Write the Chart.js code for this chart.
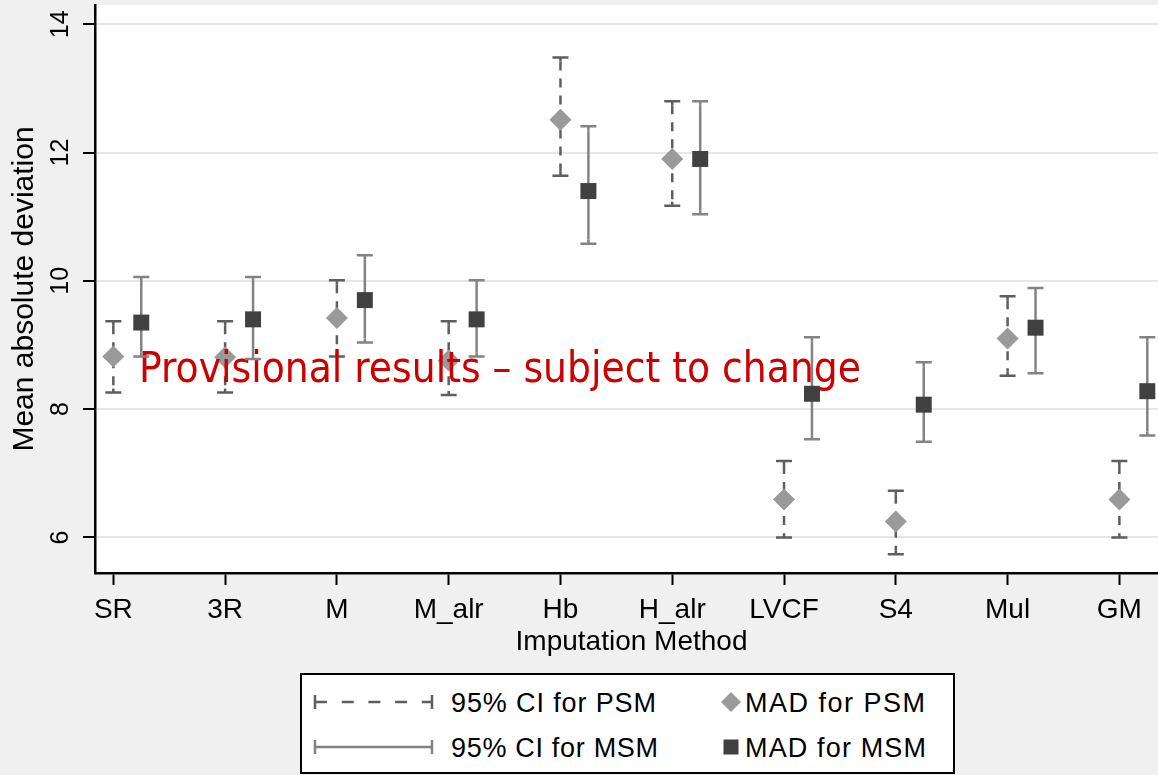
<!DOCTYPE html>
<html><head><meta charset="utf-8">
<script src="https://cdn.jsdelivr.net/npm/chart.js@4.4.1/dist/chart.umd.min.js"></script>
<style>
html,body{margin:0;padding:0;background:#f0f0f0;overflow:hidden;width:1158px;height:775px;}
#wrap{position:relative;width:1168px;height:775px;}
#c{position:absolute;left:0;top:0;}
#legend{position:absolute;left:300px;top:673px;}
#legend text{font-family:'Liberation Sans',Arial,sans-serif;font-size:27px;fill:#000;}
</style></head><body>
<div id="wrap">
<canvas id="c" width="1168" height="775"></canvas>
<svg id="legend" width="656" height="102" xmlns="http://www.w3.org/2000/svg">
  <rect x="1" y="1" width="653" height="99" fill="#fff" stroke="#000" stroke-width="2"/>
  <g stroke="#5e5e5e" stroke-width="2.5">
    <line x1="15" y1="29" x2="132" y2="29" stroke-dasharray="12 14.7"/>
    <line x1="15" y1="22" x2="15" y2="36"/>
    <line x1="132" y1="22" x2="132" y2="36"/>
  </g>
  <g stroke="#838383" stroke-width="2.5">
    <line x1="15" y1="74" x2="132" y2="74"/>
    <line x1="15" y1="67" x2="15" y2="81"/>
    <line x1="132" y1="67" x2="132" y2="81"/>
  </g>
  <text x="151" y="39" textLength="205" lengthAdjust="spacing">95% CI for PSM</text>
  <text x="151" y="84" textLength="207" lengthAdjust="spacing">95% CI for MSM</text>
  <polygon points="421,29 431,19 441,29 431,39" fill="#9a9a9a"/>
  <rect x="423.5" y="66.5" width="15" height="15" fill="#404040"/>
  <text x="445" y="39" textLength="180" lengthAdjust="spacing">MAD for PSM</text>
  <text x="445" y="84" textLength="181" lengthAdjust="spacing">MAD for MSM</text>
</svg>
</div>
<script>
const categories = ['SR','3R','M','M_alr','Hb','H_alr','LVCF','S4','Mul','GM'];
const psmMad = [8.82, 8.81, 9.42, 8.76, 12.51, 11.90, 6.59, 6.25, 9.10, 6.59];
const psmLo  = [8.26, 8.26, 8.82, 8.22, 11.64, 11.17, 6.00, 5.74, 8.52, 6.00];
const psmHi  = [9.37, 9.37, 10.01, 9.37, 13.48, 12.80, 7.19, 6.73, 9.76, 7.19];
const msmMad = [9.35, 9.40, 9.70, 9.40, 11.40, 11.90, 8.24, 8.07, 9.27, 8.28];
const msmLo  = [8.82, 8.78, 9.04, 8.82, 10.58, 11.04, 7.53, 7.49, 8.56, 7.59];
const msmHi  = [10.06, 10.06, 10.40, 10.01, 12.41, 12.80, 9.12, 8.73, 9.89, 9.12];
const yTicks = [6, 8, 10, 12, 14];
const watermark = 'Provisional results \u2013 subject to change';

const MSM_OFFSET = 0.25;

const psmData = categories.map((c, i) => ({x: i, y: psmMad[i]}));
const msmData = categories.map((c, i) => ({x: i + MSM_OFFSET, y: msmMad[i]}));

const ciStyles = {
  PSM: {lo: psmLo, hi: psmHi, off: 0, color: '#5e5e5e', dash: [9, 8]},
  MSM: {lo: msmLo, hi: msmHi, off: MSM_OFFSET, color: '#838383', dash: []}
};

const bgPlugin = {
  id: 'plotBg',
  beforeDraw(chart) {
    const {ctx, chartArea: a} = chart;
    ctx.save();
    ctx.fillStyle = '#ffffff';
    ctx.fillRect(a.left, a.top, a.right - a.left, a.bottom - a.top);
    ctx.restore();
  }
};

const errPlugin = {
  id: 'errBars',
  beforeDatasetDraw(chart, args) {
    const ds = chart.data.datasets[args.index];
    const st = ciStyles[ds.key];
    if (!st) return;
    const {ctx, scales: {x, y}} = chart;
    ctx.save();
    ctx.strokeStyle = st.color;
    ctx.lineWidth = 2.5;
    categories.forEach((c, i) => {
      const px = x.getPixelForValue(i + st.off);
      const pHi = y.getPixelForValue(st.hi[i]);
      const pLo = y.getPixelForValue(st.lo[i]);
      ctx.setLineDash(st.dash);
      ctx.beginPath();
      ctx.moveTo(px, pHi + 4);
      ctx.lineTo(px, pLo - 4);
      ctx.stroke();
      ctx.setLineDash([]);
      ctx.beginPath();
      ctx.moveTo(px - 8, pHi); ctx.lineTo(px + 8, pHi);
      ctx.moveTo(px - 8, pLo); ctx.lineTo(px + 8, pLo);
      ctx.moveTo(px, pHi); ctx.lineTo(px, pHi + 4);
      ctx.moveTo(px, pLo); ctx.lineTo(px, pLo - 4);
      ctx.stroke();
    });
    ctx.restore();
  },
  afterDatasetDraw(chart, args) {
    const ds = chart.data.datasets[args.index];
    if (ds.key !== 'PSM') return;
    const ctx = chart.ctx;
    ctx.save();
    ctx.font = "42px 'DejaVu Sans Condensed', 'DejaVu Sans', sans-serif";
    ctx.fillStyle = '#cc0000';
    ctx.textBaseline = 'alphabetic';
    ctx.textAlign = 'left';
    ctx.fillText(watermark, 139, 382, 722);
    ctx.restore();
  },
  afterDraw(chart) {
    const {ctx, scales: {y}} = chart;
    ctx.save();
    ctx.font = "25px 'Liberation Sans', Arial, sans-serif";
    ctx.fillStyle = '#000';
    ctx.textAlign = 'center';
    ctx.textBaseline = 'alphabetic';
    yTicks.forEach(v => {
      const py = y.getPixelForValue(v);
      ctx.save();
      ctx.translate(68, py);
      ctx.rotate(-Math.PI / 2);
      ctx.fillText(String(v), 0, 0);
      ctx.restore();
    });
    ctx.restore();
  }
};

new Chart(document.getElementById('c'), {
  type: 'scatter',
  data: {
    datasets: [
      {key: 'PSM', label: 'MAD for PSM', data: psmData, order: 2,
       pointStyle: 'rectRot', pointRadius: 11, pointHoverRadius: 11,
       backgroundColor: '#9a9a9a', borderWidth: 0, showLine: false},
      {key: 'MSM', label: 'MAD for MSM', data: msmData, order: 1,
       pointStyle: 'rect', pointRadius: 11.3, pointHoverRadius: 11.3,
       backgroundColor: '#404040', borderWidth: 0, showLine: false}
    ]
  },
  options: {
    responsive: false,
    animation: false,
    events: [],
    layout: {autoPadding: false, padding: {top: 5, right: 0, bottom: 116, left: 0}},
    plugins: {legend: {display: false}, tooltip: {enabled: false}},
    scales: {
      x: {
        type: 'linear', min: -0.164, max: 9.435,
        afterBuildTicks: s => { s.ticks = categories.map((c, i) => ({value: i})); },
        afterFit: s => { s.height = 86; },
        ticks: {
          callback: (v, i) => categories[i],
          font: {family: "'Liberation Sans', Arial, sans-serif", size: 28},
          color: '#000', padding: 8, autoSkip: false, maxRotation: 0, minRotation: 0
        },
        grid: {drawOnChartArea: false, drawTicks: true, tickLength: 12, tickColor: '#000', tickWidth: 2},
        border: {display: true, color: '#000', width: 2.5},
        title: {display: true, text: 'Imputation Method',
          font: {family: "'Liberation Sans', Arial, sans-serif", size: 28},
          color: '#000', padding: {top: 0, bottom: 0}}
      },
      y: {
        type: 'linear', min: 5.446, max: 14.30,
        afterBuildTicks: s => { s.ticks = yTicks.map(v => ({value: v})); },
        afterFit: s => { s.width = 95; },
        ticks: {display: false},
        grid: {color: '#e6e6e6', lineWidth: 2, drawTicks: true, tickLength: 12, tickColor: '#000', tickWidth: 2},
        border: {display: true, color: '#000', width: 2.5},
        title: {display: true, text: 'Mean absolute deviation',
          font: {family: "'Liberation Sans', Arial, sans-serif", size: 30},
          color: '#000', padding: {top: 7, bottom: 0}}
      }
    }
  },
  plugins: [bgPlugin, errPlugin]
});
</script>
</body></html>
